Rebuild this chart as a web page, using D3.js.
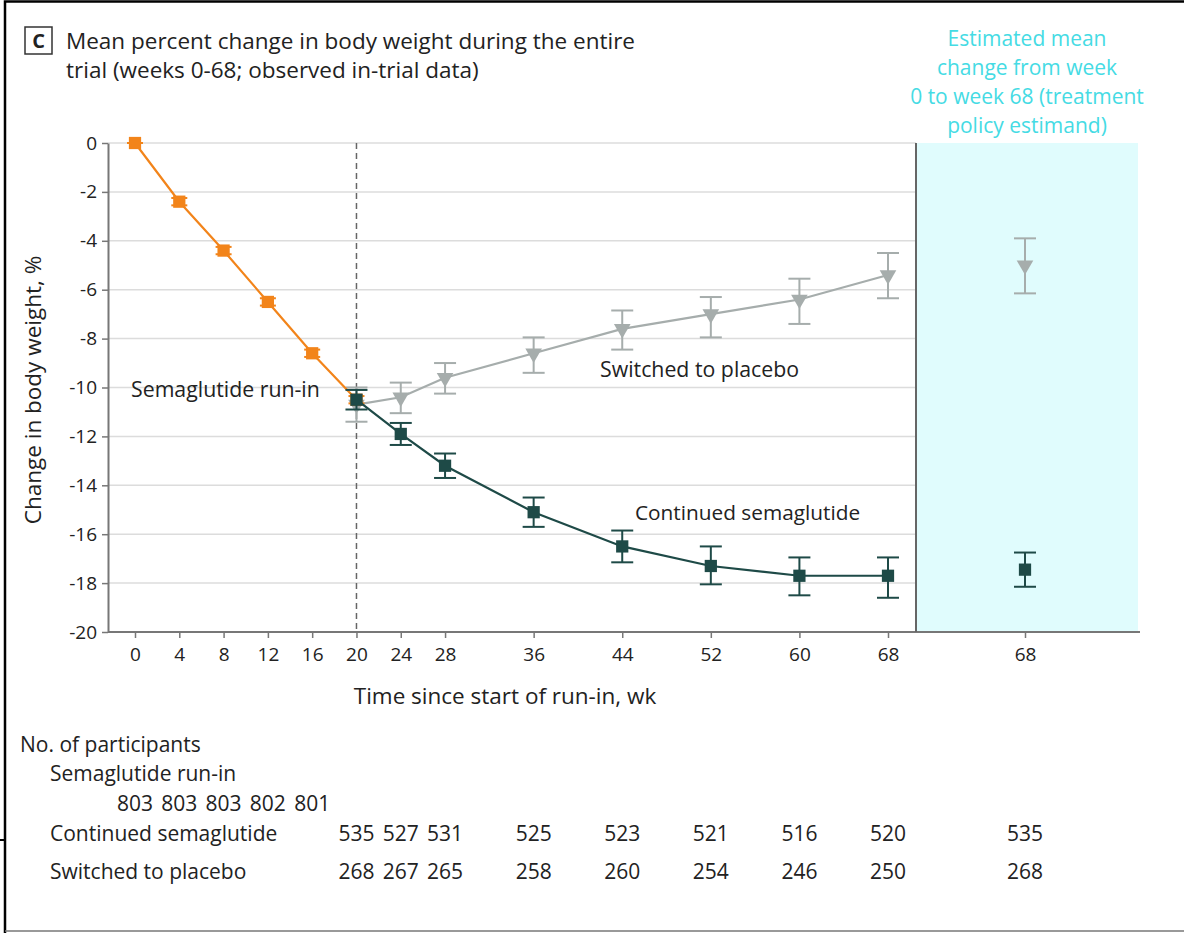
<!DOCTYPE html>
<html><head><meta charset="utf-8">
<script src="https://cdn.jsdelivr.net/npm/d3@7"></script>
<style>
html,body{margin:0;padding:0;background:#fff;}
svg text{font-family:"Open Sans",sans-serif;}
</style></head>
<body>
<svg id="chart" width="1184" height="933"></svg>
<script>
// ---- data ----
const weekTicks = [0,4,8,12,16,20,24,28,36,44,52,60,68];
const yTicks = [0,-2,-4,-6,-8,-10,-12,-14,-16,-18,-20];

const runinWeeks = [0,4,8,12,16,20];
const runinMean  = [0,-2.4,-4.4,-6.5,-8.6,-10.5];
const runinLow   = [0,-2.55,-4.55,-6.65,-8.75,-10.65];
const runinHigh  = [0,-2.25,-4.25,-6.35,-8.45,-10.35];

const trialWeeks = [20,24,28,36,44,52,60,68];
const semaMean = [-10.5,-11.9,-13.2,-15.1,-16.5,-17.3,-17.7,-17.7];
const semaLow  = [-10.9,-12.35,-13.7,-15.7,-17.15,-18.05,-18.5,-18.6];
const semaHigh = [-10.1,-11.45,-12.7,-14.5,-15.85,-16.5,-16.95,-16.95];

const placMean = [-10.7,-10.4,-9.6,-8.6,-7.6,-7.0,-6.4,-5.4];
const placLow  = [-11.4,-11.05,-10.25,-9.4,-8.45,-7.95,-7.4,-6.35];
const placHigh = [-10.0,-9.8,-9.0,-7.95,-6.85,-6.3,-5.55,-4.5];

const estCat = ["68"];
const estSema = {mean:-17.45, low:-18.15, high:-16.75};
const estPlac = {mean:-5.0, low:-6.15, high:-3.9};

const nRunin = [803,803,803,802,801];
const nSemaWeeks = [20,24,28,36,44,52,60,68];
const nSema = [535,527,531,525,523,521,516,520];
const nPlac = [268,267,265,258,260,254,246,250];
const nEstSema = 535, nEstPlac = 268;

// ---- style ----
const cOrange = "#f2841a", cTeal = "#1e4a47", cGray = "#a6adac", cCyan = "#45dbe4";
const svg = d3.select("#chart");
const plotTop = 143, plotBottom = 632, plotLeft = 108, mainRight = 916, panelRight = 1138, axisRight = 1140;

const x = d3.scaleLinear().domain([0,68]).range([135,888]);
const y = d3.scaleLinear().domain([0,-20]).range([plotTop,plotBottom]);
const xr = d3.scalePoint().domain(estCat).range([mainRight, panelRight-4]).padding(0.5);

// frame
svg.append("path").attr("d","M5,933 V1.5 H1184").attr("fill","none").attr("stroke","#000").attr("stroke-width",2.5);
svg.append("line").attr("x1",5).attr("x2",1184).attr("y1",931).attr("y2",931).attr("stroke","#777").attr("stroke-width",1.5);
svg.append("line").attr("x1",0).attr("x2",5).attr("y1",840).attr("y2",840).attr("stroke","#000").attr("stroke-width",2);

// title
svg.append("rect").attr("x",25).attr("y",27).attr("width",27).attr("height",27).attr("fill","#fff").attr("stroke","#333").attr("stroke-width",1.5);
svg.append("text").attr("x",38.5).attr("y",48).attr("text-anchor","middle").attr("font-size",20).attr("font-weight","bold").attr("fill","#222").text("C");
svg.append("text").attr("x",66).attr("y",49).attr("font-size",22.5).attr("fill","#222").text("Mean percent change in body weight during the entire");
svg.append("text").attr("x",66).attr("y",78).attr("font-size",22.5).attr("fill","#222").text("trial (weeks 0-68; observed in-trial data)");

// cyan panel
svg.append("rect").attr("x",mainRight).attr("y",plotTop).attr("width",panelRight-mainRight).attr("height",plotBottom-plotTop).attr("fill","#e0fcfd");
const est = ["Estimated mean","change from week","0 to week 68 (treatment","policy estimand)"];
svg.append("g").selectAll("text").data(est).join("text")
  .attr("x",1027).attr("y",(d,i)=>46+i*29).attr("text-anchor","middle").attr("font-size",21).attr("fill",cCyan).text(d=>d);

// gridlines
svg.append("g").selectAll("line").data(yTicks.filter(d=>d!==-20)).join("line")
  .attr("x1",plotLeft).attr("x2",mainRight).attr("y1",d=>y(d)).attr("y2",d=>y(d))
  .attr("stroke","#dcdcdc").attr("stroke-width",1.5);

// y axis
const yAxis = svg.append("g").attr("transform",`translate(${plotLeft},0)`)
  .call(d3.axisLeft(y).tickValues(yTicks).tickSize(6).tickSizeOuter(0).tickFormat(d=>d===0?"0":"-"+Math.abs(d)));
yAxis.select(".domain").attr("stroke","#777").attr("stroke-width",2);
yAxis.selectAll(".tick line").attr("stroke","#777").attr("stroke-width",1.5);
yAxis.selectAll("text").attr("font-size",19).attr("fill","#222").attr("dx",-2)
  .style("font-family",'"Open Sans",sans-serif');
svg.append("text").attr("transform","translate(41,390) rotate(-90)").attr("text-anchor","middle")
  .attr("font-size",22.5).attr("fill","#222").text("Change in body weight, %");

// x axis
svg.append("line").attr("x1",plotLeft).attr("x2",axisRight).attr("y1",plotBottom).attr("y2",plotBottom).attr("stroke","#777").attr("stroke-width",2);
const xAxis = svg.append("g").attr("transform",`translate(0,${plotBottom})`)
  .call(d3.axisBottom(x).tickValues(weekTicks).tickSize(6).tickSizeOuter(0).tickPadding(10));
xAxis.select(".domain").remove();
const xAxis2 = svg.append("g").attr("transform",`translate(0,${plotBottom})`)
  .call(d3.axisBottom(xr).tickSize(6).tickSizeOuter(0).tickPadding(10));
xAxis2.select(".domain").remove();
[xAxis,xAxis2].forEach(g=>{
  g.selectAll(".tick line").attr("stroke","#777").attr("stroke-width",1.5);
  g.selectAll("text").attr("font-size",19).attr("fill","#222").style("font-family",'"Open Sans",sans-serif');
});
svg.append("text").attr("x",505).attr("y",704).attr("text-anchor","middle").attr("font-size",22.5).attr("fill","#222").text("Time since start of run-in, wk");

// panel divider & dashed line
svg.append("line").attr("x1",mainRight).attr("x2",mainRight).attr("y1",plotTop).attr("y2",plotBottom).attr("stroke","#666").attr("stroke-width",2);
svg.append("line").attr("x1",x(20)).attr("x2",x(20)).attr("y1",plotTop).attr("y2",plotBottom)
  .attr("stroke","#666").attr("stroke-width",1.5).attr("stroke-dasharray","6,4");

// helpers
function errBars(g, xs, lo, hi, color, cap, sw){
  const d = xs.map((v,i)=>({x:v, lo:lo[i], hi:hi[i]}));
  g.selectAll(null).data(d).join("line").attr("x1",p=>p.x).attr("x2",p=>p.x).attr("y1",p=>y(p.lo)).attr("y2",p=>y(p.hi)).attr("stroke",color).attr("stroke-width",sw);
  g.selectAll(null).data(d).join("line").attr("x1",p=>p.x-cap).attr("x2",p=>p.x+cap).attr("y1",p=>y(p.lo)).attr("y2",p=>y(p.lo)).attr("stroke",color).attr("stroke-width",sw);
  g.selectAll(null).data(d).join("line").attr("x1",p=>p.x-cap).attr("x2",p=>p.x+cap).attr("y1",p=>y(p.hi)).attr("y2",p=>y(p.hi)).attr("stroke",color).attr("stroke-width",sw);
}
const line = d3.line().x(d=>d[0]).y(d=>y(d[1]));
const sq = d3.symbol().type(d3.symbolSquare).size(150);
const tri = d3.symbol().type(d3.symbolTriangle).size(120);

// placebo
const gP = svg.append("g");
gP.append("path").attr("d",line(trialWeeks.map((w,i)=>[x(w),placMean[i]]))).attr("fill","none").attr("stroke",cGray).attr("stroke-width",2.2);
errBars(gP, trialWeeks.map(x), placLow, placHigh, cGray, 11, 2);
gP.selectAll(null).data(trialWeeks.map((w,i)=>[x(w),placMean[i]])).join("path")
  .attr("d",tri).attr("transform",d=>`translate(${d[0]},${y(d[1])}) rotate(180)`).attr("fill",cGray);
errBars(gP, [xr("68")], [estPlac.low], [estPlac.high], cGray, 11, 2);
gP.append("path").attr("d",tri).attr("transform",`translate(${xr("68")},${y(estPlac.mean)}) rotate(180)`).attr("fill",cGray);

// run-in
const gR = svg.append("g");
gR.append("path").attr("d",line(runinWeeks.map((w,i)=>[x(w),runinMean[i]]))).attr("fill","none").attr("stroke",cOrange).attr("stroke-width",2.2);
errBars(gR, runinWeeks.map(x), runinLow, runinHigh, cOrange, 8, 2);
gR.selectAll(null).data(runinWeeks.map((w,i)=>[x(w),runinMean[i]])).join("path")
  .attr("d",sq).attr("transform",d=>`translate(${d[0]},${y(d[1])})`).attr("fill",cOrange);

// continued semaglutide
const gS = svg.append("g");
gS.append("path").attr("d",line(trialWeeks.map((w,i)=>[x(w),semaMean[i]]))).attr("fill","none").attr("stroke",cTeal).attr("stroke-width",2.2);
errBars(gS, trialWeeks.map(x), semaLow, semaHigh, cTeal, 11, 2);
gS.selectAll(null).data(trialWeeks.map((w,i)=>[x(w),semaMean[i]])).join("path")
  .attr("d",sq).attr("transform",d=>`translate(${d[0]},${y(d[1])})`).attr("fill",cTeal);
errBars(gS, [xr("68")], [estSema.low], [estSema.high], cTeal, 11, 2);
gS.append("path").attr("d",sq).attr("transform",`translate(${xr("68")},${y(estSema.mean)})`).attr("fill",cTeal);

// series labels
svg.append("text").attr("x",131).attr("y",397).attr("font-size",21.3).attr("fill","#222").text("Semaglutide run-in");
svg.append("text").attr("x",600).attr("y",377).attr("font-size",21.3).attr("fill","#222").text("Switched to placebo");
svg.append("text").attr("x",635).attr("y",520).attr("font-size",20.8).attr("fill","#222").text("Continued semaglutide");

// participants table
const tf = 21;
svg.append("text").attr("x",20).attr("y",752).attr("font-size",tf).attr("fill","#222").text("No. of participants");
svg.append("text").attr("x",50).attr("y",781).attr("font-size",tf).attr("fill","#222").text("Semaglutide run-in");
svg.append("g").selectAll("text").data(nRunin).join("text").attr("x",(d,i)=>x(runinWeeks[i])).attr("y",811)
  .attr("text-anchor","middle").attr("font-size",tf).attr("fill","#222").text(d=>d);
svg.append("text").attr("x",50).attr("y",841).attr("font-size",tf).attr("fill","#222").text("Continued semaglutide");
svg.append("g").selectAll("text").data(nSema).join("text").attr("x",(d,i)=>x(nSemaWeeks[i])).attr("y",841)
  .attr("text-anchor","middle").attr("font-size",tf).attr("fill","#222").text(d=>d);
svg.append("text").attr("x",xr("68")).attr("y",841).attr("text-anchor","middle").attr("font-size",tf).attr("fill","#222").text(nEstSema);
svg.append("text").attr("x",50).attr("y",879).attr("font-size",tf).attr("fill","#222").text("Switched to placebo");
svg.append("g").selectAll("text").data(nPlac).join("text").attr("x",(d,i)=>x(nSemaWeeks[i])).attr("y",879)
  .attr("text-anchor","middle").attr("font-size",tf).attr("fill","#222").text(d=>d);
svg.append("text").attr("x",xr("68")).attr("y",879).attr("text-anchor","middle").attr("font-size",tf).attr("fill","#222").text(nEstPlac);
</script>
</body></html>
